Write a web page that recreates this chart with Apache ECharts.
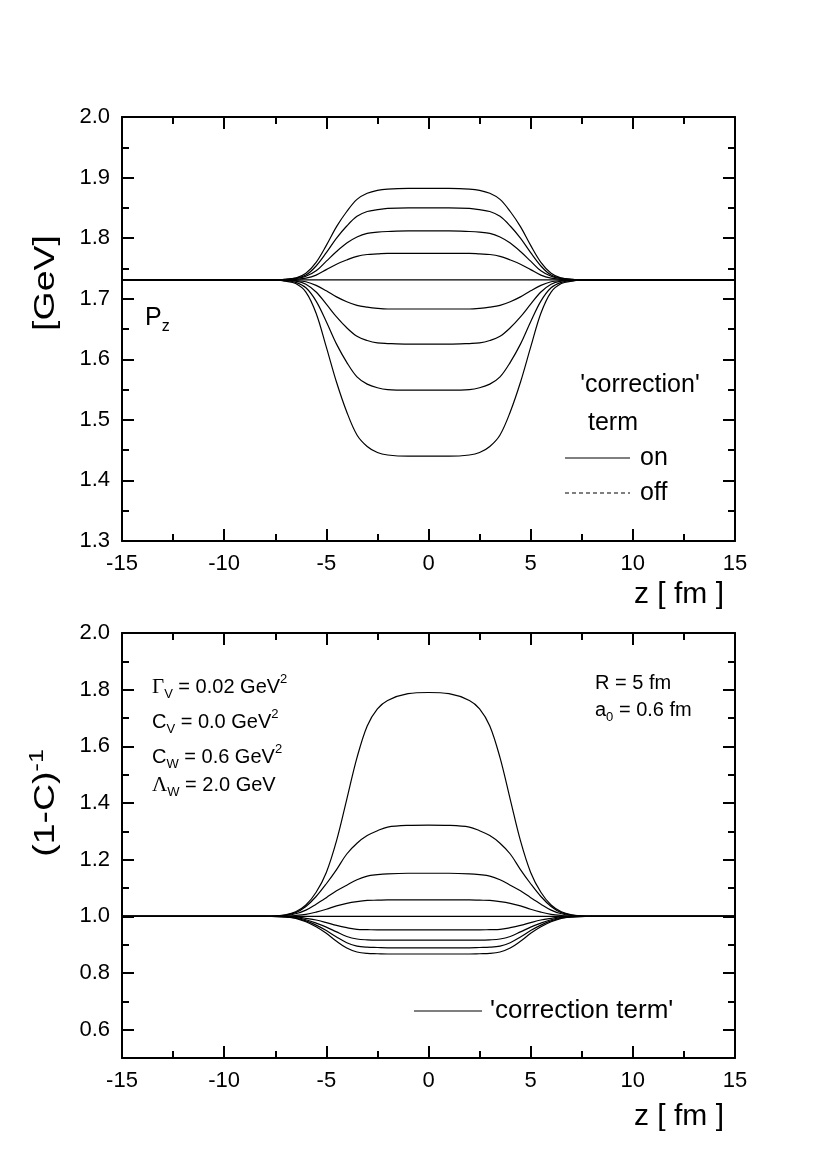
<!DOCTYPE html>
<html>
<head>
<meta charset="utf-8">
<script src="https://cdn.jsdelivr.net/npm/echarts@6/dist/echarts.min.js"></script>
<style>
html, body { margin: 0; padding: 0; background: #fff; }
#container { width: 817px; height: 1176px; }
</style>
</head>
<body>
<div id="container"></div>
<script>
// |z| grid (fm); the curves are symmetric about z = 0
var zHalf = [0, 1, 2, 2.5, 3, 3.5, 4, 4.5, 5, 5.5, 6, 6.5, 7, 7.5, 8, 10, 15];

// upper panel: P_z [GeV]
var pz1 = [1.882, 1.882, 1.881, 1.879, 1.874, 1.864, 1.844, 1.819, 1.788, 1.760, 1.742, 1.734, 1.732, 1.731, 1.731, 1.731, 1.731];
var pz2 = [1.850, 1.850, 1.849, 1.847, 1.844, 1.836, 1.820, 1.800, 1.776, 1.754, 1.739, 1.734, 1.732, 1.731, 1.731, 1.731, 1.731];
var pz3 = [1.812, 1.812, 1.811, 1.810, 1.808, 1.802, 1.792, 1.778, 1.762, 1.746, 1.737, 1.733, 1.731, 1.731, 1.731, 1.731, 1.731];
var pz4 = [1.775, 1.775, 1.775, 1.774, 1.773, 1.770, 1.764, 1.757, 1.748, 1.739, 1.734, 1.732, 1.731, 1.731, 1.731, 1.731, 1.731];
var pz5 = [1.731, 1.731, 1.731, 1.731, 1.731, 1.731, 1.731, 1.731, 1.731, 1.731, 1.731, 1.731, 1.731, 1.731, 1.731, 1.731, 1.731];
var pz6 = [1.683, 1.683, 1.683, 1.684, 1.686, 1.689, 1.695, 1.703, 1.713, 1.722, 1.728, 1.730, 1.731, 1.731, 1.731, 1.731, 1.731];
var pz7 = [1.625, 1.625, 1.626, 1.627, 1.631, 1.638, 1.652, 1.670, 1.691, 1.711, 1.724, 1.729, 1.730, 1.731, 1.731, 1.731, 1.731];
var pz8 = [1.549, 1.549, 1.550, 1.553, 1.559, 1.571, 1.595, 1.625, 1.662, 1.696, 1.718, 1.727, 1.730, 1.731, 1.731, 1.731, 1.731];
var pz9 = [1.440, 1.440, 1.442, 1.446, 1.456, 1.475, 1.513, 1.562, 1.620, 1.676, 1.711, 1.725, 1.729, 1.731, 1.731, 1.731, 1.731];
var pzCurves = [pz1, pz2, pz3, pz4, pz5, pz6, pz7, pz8, pz9];

// lower panel: (1-C)^-1
var ic1 = [1.790, 1.786, 1.762, 1.732, 1.672, 1.560, 1.413, 1.267, 1.155, 1.085, 1.040, 1.016, 1.005, 1.001, 1.000, 1.000, 1.000];
var ic2 = [1.322, 1.321, 1.315, 1.302, 1.285, 1.258, 1.220, 1.165, 1.115, 1.070, 1.035, 1.013, 1.004, 1.001, 1.000, 1.000, 1.000];
var ic3 = [1.152, 1.152, 1.150, 1.147, 1.142, 1.129, 1.110, 1.090, 1.066, 1.043, 1.022, 1.009, 1.003, 1.001, 1.000, 1.000, 1.000];
var ic4 = [1.058, 1.058, 1.058, 1.057, 1.056, 1.052, 1.046, 1.037, 1.025, 1.015, 1.007, 1.003, 1.001, 1.000, 1.000, 1.000, 1.000];
var ic5 = [1.000, 1.000, 1.000, 1.000, 1.000, 1.000, 1.000, 1.000, 1.000, 1.000, 1.000, 1.000, 1.000, 1.000, 1.000, 1.000, 1.000];
var ic6 = [0.952, 0.952, 0.952, 0.952, 0.953, 0.954, 0.960, 0.968, 0.978, 0.987, 0.993, 0.998, 0.999, 1.000, 1.000, 1.000, 1.000];
var ic7 = [0.916, 0.916, 0.916, 0.916, 0.917, 0.920, 0.929, 0.945, 0.962, 0.976, 0.988, 0.996, 0.999, 1.000, 1.000, 1.000, 1.000];
var ic8 = [0.889, 0.889, 0.889, 0.890, 0.891, 0.895, 0.907, 0.927, 0.950, 0.969, 0.984, 0.994, 0.998, 1.000, 1.000, 1.000, 1.000];
var ic9 = [0.867, 0.867, 0.867, 0.868, 0.869, 0.874, 0.888, 0.912, 0.940, 0.963, 0.981, 0.993, 0.998, 0.999, 1.000, 1.000, 1.000];
var icCurves = [ic1, ic2, ic3, ic4, ic5, ic6, ic7, ic8, ic9];

// tick values
var icMajor = [0.6, 0.8, 1.0, 1.2, 1.4, 1.6, 1.8, 2.0];
var icMinor = [0.7, 0.9, 1.1, 1.3, 1.5, 1.7, 1.9];

var font = 'Liberation Sans, Arial, sans-serif';
var serif = 'Liberation Serif, Times New Roman, serif';

function toPoints(vals) {
    var pts = [];
    for (var i = zHalf.length - 1; i > 0; i--) pts.push([-zHalf[i], vals[i]]);
    for (var j = 0; j < zHalf.length; j++) pts.push([zHalf[j], vals[j]]);
    return pts;
}

var axisLine = {show: true, onZero: false, lineStyle: {color: '#000', width: 2}};
var tickStyle = {color: '#000', width: 2};
var labelStyle = {fontSize: 22, color: '#000', fontFamily: font};

function xAx(grid, pos, labels) {
    return {
        type: 'value', gridIndex: grid, position: pos, min: -15, max: 15, interval: 5,
        axisLine: axisLine,
        axisTick: {inside: true, length: 12, lineStyle: tickStyle},
        minorTick: {show: true, splitNumber: 2, length: 7, lineStyle: tickStyle},
        splitLine: {show: false}, minorSplitLine: {show: false},
        axisLabel: Object.assign({show: labels, margin: 12}, labelStyle)
    };
}

function pzAx(pos, labels) {
    return {
        type: 'value', gridIndex: 0, position: pos, min: 1.3, max: 2.0, interval: 0.1,
        axisLine: axisLine,
        axisTick: {inside: true, length: 12, lineStyle: tickStyle},
        minorTick: {show: true, splitNumber: 2, length: 7, lineStyle: tickStyle},
        splitLine: {show: false}, minorSplitLine: {show: false},
        axisLabel: Object.assign({show: labels, margin: 12, formatter: function (v) { return v.toFixed(1); }}, labelStyle)
    };
}

function icAx(pos, values, len, line, labels) {
    return {
        type: 'value', gridIndex: 1, position: pos, min: 0.5, max: 2.0,
        axisLine: line ? axisLine : {show: false, onZero: false},
        axisTick: {inside: true, length: len, lineStyle: tickStyle, customValues: values},
        splitLine: {show: false},
        axisLabel: Object.assign({show: labels, margin: 12, customValues: values,
            formatter: function (v) { return v.toFixed(1); }}, labelStyle)
    };
}

var series = [];
pzCurves.forEach(function (c) {
    series.push({
        type: 'line', xAxisIndex: 0, yAxisIndex: 0, data: toPoints(c),
        symbol: 'none', smooth: 0.35, silent: true,
        lineStyle: {color: '#000', width: 1.2}
    });
});
icCurves.forEach(function (c) {
    series.push({
        type: 'line', xAxisIndex: 2, yAxisIndex: 2, data: toPoints(c),
        symbol: 'none', smooth: 0.35, silent: true,
        lineStyle: {color: '#000', width: 1.2}
    });
});

function txt(x, y, text, size, align, extra) {
    return Object.assign({
        type: 'text', x: x, y: y, silent: true,
        style: {text: text, fill: '#000', fontSize: size, fontFamily: font,
            align: align || 'left', verticalAlign: 'middle'}
    }, extra || {});
}

function rich(x, y, text, size, align, extra) {
    var lh = size + 8;
    return Object.assign({
        type: 'text', x: x, y: y, silent: true,
        style: {
            text: text, fill: '#000', fontSize: size, fontFamily: font,
            align: align || 'left', verticalAlign: 'middle',
            rich: {
                n: {fontSize: size, fontFamily: font, lineHeight: lh, verticalAlign: 'middle'},
                g: {fontSize: size + 1, fontFamily: serif, lineHeight: lh, verticalAlign: 'middle'},
                s: {fontSize: Math.round(size * 0.65), fontFamily: font, lineHeight: lh - 4, verticalAlign: 'bottom'},
                p: {fontSize: Math.round(size * 0.65), fontFamily: font, lineHeight: lh - 6, verticalAlign: 'top'}
            }
        }
    }, extra || {});
}

function seg(x1, y1, x2, y2, dash) {
    return {
        type: 'line', silent: true,
        shape: {x1: x1, y1: y1, x2: x2, y2: y2},
        style: {stroke: '#000', lineWidth: 1.2, lineDash: dash ? [4, 3] : null}
    };
}

var vertical = {rotation: Math.PI / 2, scaleX: 1.25};

var graphics = [
    txt(46, 283, '[GeV]', 30, 'center', vertical),
    txt(724, 595, 'z [ fm ]', 30, 'right'),
    rich(145, 318, '{n|P}{s|z}', 25),
    txt(640, 385, "'correction'", 25, 'center'),
    txt(613, 423, 'term', 25, 'center'),
    seg(565, 458, 630, 458, false),
    txt(640, 458, 'on', 25),
    seg(565, 493, 630, 493, true),
    txt(640, 493, 'off', 25),

    rich(152, 687, '{g|Γ}{s|V}{n| = 0.02 GeV}{p|2}', 20),
    rich(152, 722, '{n|C}{s|V}{n| = 0.0 GeV}{p|2}', 20),
    rich(152, 757, '{n|C}{s|W}{n| = 0.6 GeV}{p|2}', 20),
    rich(152, 785, '{g|Λ}{s|W}{n| = 2.0 GeV}', 20),
    rich(595, 683, '{n|R = 5 fm}', 20),
    rich(595, 710, '{n|a}{s|0}{n| = 0.6 fm}', 20),

    rich(46, 803, '{n|(1-C)}{p|-1}', 30, 'center', vertical),
    seg(414, 1011, 482, 1011, false),
    txt(490, 1011, "'correction term'", 26),
    txt(724, 1117, 'z [ fm ]', 30, 'right')
];

var dom = document.getElementById('container');
var myChart = echarts.init(dom);
var option = {
    backgroundColor: '#fff',
    animation: false,
    grid: [
        {left: 122, top: 117, width: 613, height: 424},
        {left: 122, top: 633, width: 613, height: 425}
    ],
    xAxis: [
        xAx(0, 'bottom', true),
        xAx(0, 'top', false),
        xAx(1, 'bottom', true),
        xAx(1, 'top', false)
    ],
    yAxis: [
        pzAx('left', true),
        pzAx('right', false),
        icAx('left', icMajor, 12, true, true),
        icAx('left', icMinor, 7, false, false),
        icAx('right', icMajor, 12, true, false),
        icAx('right', icMinor, 7, false, false)
    ],
    series: series,
    graphic: graphics
};
myChart.setOption(option, true);
</script>
</body>
</html>
